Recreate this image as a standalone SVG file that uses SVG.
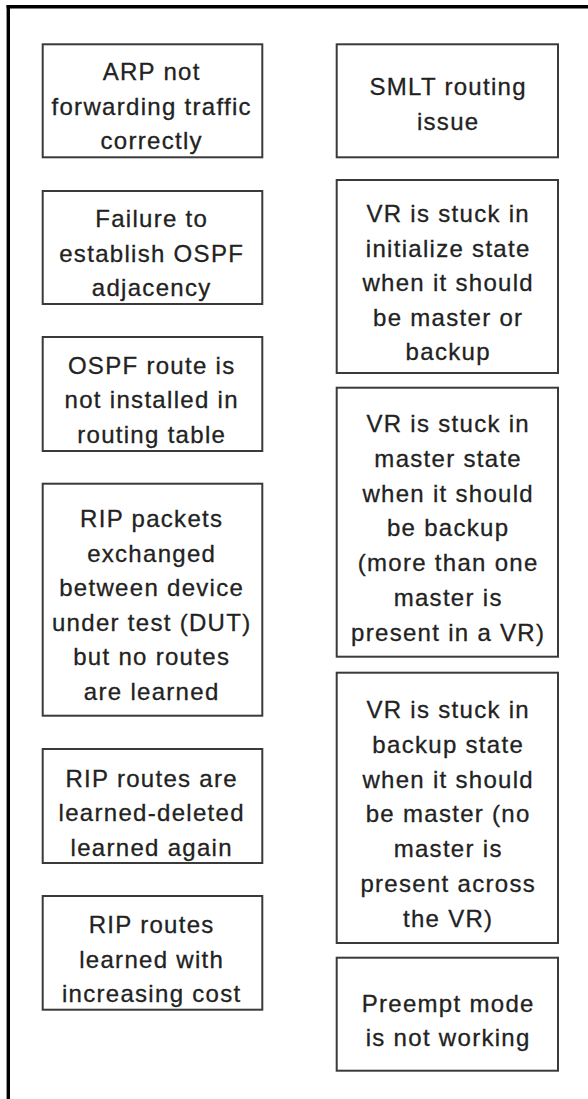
<svg xmlns="http://www.w3.org/2000/svg" width="588" height="1099" viewBox="0 0 588 1099">
<style>
.box{fill:#fff;stroke:#3a3a3a;stroke-width:2}
.t{font-family:"Liberation Sans",Arial,sans-serif;font-size:24px;letter-spacing:1.3px;fill:#222;stroke:#222;stroke-width:0.3;text-anchor:middle}
.frame{stroke:#000;stroke-width:3.4;fill:none}
</style>
<rect width="588" height="1099" fill="#fff"/>
<g id="frame">
<line class="frame" x1="8.3" y1="5" x2="8.3" y2="1099"/>
<line class="frame" x1="6.6" y1="6.8" x2="588" y2="6.8"/>
</g>
<g id="connectors"></g>
<g id="n1"><rect class="box" x="42.7" y="44.3" width="219.6" height="113"/>
<text class="t"><tspan x="151.7" y="80">ARP not</tspan><tspan x="151.7" y="114.5">forwarding traffic</tspan><tspan x="151.7" y="149">correctly</tspan></text></g>
<g id="n2"><rect class="box" x="42.7" y="191" width="219.6" height="113"/>
<text class="t"><tspan x="151.7" y="227">Failure to</tspan><tspan x="151.7" y="261.5">establish OSPF</tspan><tspan x="151.7" y="296">adjacency</tspan></text></g>
<g id="n3"><rect class="box" x="42.7" y="337" width="219.6" height="114"/>
<text class="t"><tspan x="151.7" y="373.5">OSPF route is</tspan><tspan x="151.7" y="408">not installed in</tspan><tspan x="151.7" y="442.5">routing table</tspan></text></g>
<g id="n4"><rect class="box" x="42.7" y="483.7" width="219.6" height="232"/>
<text class="t"><tspan x="151.7" y="527">RIP packets</tspan><tspan x="151.7" y="561.5">exchanged</tspan><tspan x="151.7" y="596">between device</tspan><tspan x="151.7" y="630.5">under test (DUT)</tspan><tspan x="151.7" y="665">but no routes</tspan><tspan x="151.7" y="699.5">are learned</tspan></text></g>
<g id="n5"><rect class="box" x="42.7" y="749" width="219.6" height="114"/>
<text class="t"><tspan x="151.7" y="786.5">RIP routes are</tspan><tspan x="151.7" y="821">learned-deleted</tspan><tspan x="151.7" y="855.5">learned again</tspan></text></g>
<g id="n6"><rect class="box" x="42.7" y="896" width="219.6" height="113.7"/>
<text class="t"><tspan x="151.7" y="933">RIP routes</tspan><tspan x="151.7" y="967.5">learned with</tspan><tspan x="151.7" y="1002">increasing cost</tspan></text></g>
<g id="n7"><rect class="box" x="336.7" y="44.3" width="221.3" height="113"/>
<text class="t"><tspan x="448.2" y="95">SMLT routing</tspan><tspan x="448.2" y="129.5">issue</tspan></text></g>
<g id="n8"><rect class="box" x="336.7" y="180" width="221.3" height="193"/>
<text class="t"><tspan x="448.2" y="222">VR is stuck in</tspan><tspan x="448.2" y="256.5">initialize state</tspan><tspan x="448.2" y="291">when it should</tspan><tspan x="448.2" y="325.5">be master or</tspan><tspan x="448.2" y="360">backup</tspan></text></g>
<g id="n9"><rect class="box" x="336.7" y="387.7" width="221.3" height="269"/>
<text class="t"><tspan x="448.2" y="432">VR is stuck in</tspan><tspan x="448.2" y="466.8">master state</tspan><tspan x="448.2" y="501.6">when it should</tspan><tspan x="448.2" y="536.4">be backup</tspan><tspan x="448.2" y="571.2">(more than one</tspan><tspan x="448.2" y="606">master is</tspan><tspan x="448.2" y="640.8">present in a VR)</tspan></text></g>
<g id="n10"><rect class="box" x="336.7" y="672.7" width="221.3" height="270.3"/>
<text class="t"><tspan x="448.2" y="718">VR is stuck in</tspan><tspan x="448.2" y="752.8">backup state</tspan><tspan x="448.2" y="787.6">when it should</tspan><tspan x="448.2" y="822.4">be master (no</tspan><tspan x="448.2" y="857.2">master is</tspan><tspan x="448.2" y="892">present across</tspan><tspan x="448.2" y="926.8">the VR)</tspan></text></g>
<g id="n11"><rect class="box" x="336.7" y="957.7" width="221.3" height="113"/>
<text class="t"><tspan x="448.2" y="1011.5">Preempt mode</tspan><tspan x="448.2" y="1046">is not working</tspan></text></g>
</svg>
